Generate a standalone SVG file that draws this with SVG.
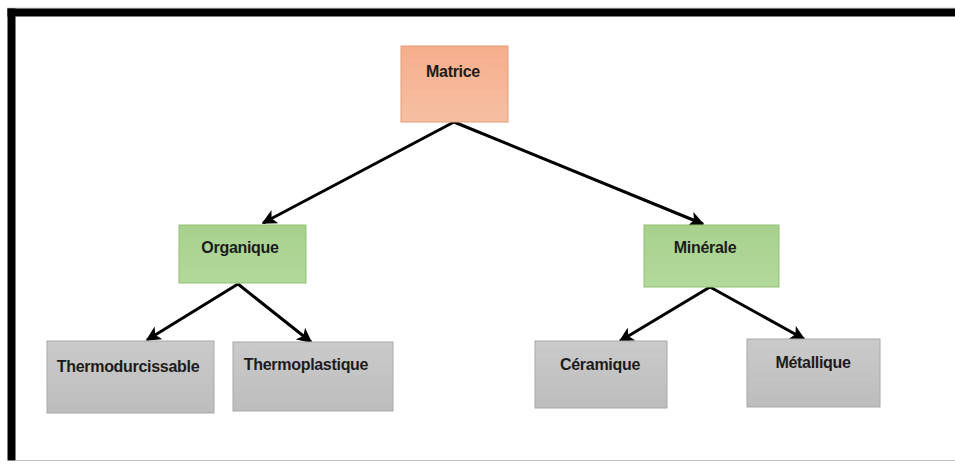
<svg xmlns="http://www.w3.org/2000/svg" width="955" height="470" viewBox="0 0 955 470">
<defs>
<linearGradient id="gOrange" x1="0" y1="0" x2="0" y2="1"><stop offset="0" stop-color="#F5AE8C"/><stop offset="1" stop-color="#F7BFA2"/></linearGradient>
<linearGradient id="gGreen" x1="0" y1="0" x2="0" y2="1"><stop offset="0" stop-color="#A8D18D"/><stop offset="1" stop-color="#B3D89B"/></linearGradient>
<linearGradient id="gGrey" x1="0" y1="0" x2="0" y2="1"><stop offset="0" stop-color="#CACACA"/><stop offset="1" stop-color="#BDBDBD"/></linearGradient>
<marker id="arr" viewBox="0 0 10 10" refX="9" refY="5" markerWidth="5" markerHeight="5" orient="auto" markerUnits="strokeWidth">
<path d="M0,0 L10,5 L0,10 L2.5,5 z" fill="#000"/>
</marker>
<style>
.lbl{font-family:"Liberation Sans",Arial,sans-serif;font-weight:bold;font-size:16px;letter-spacing:-0.3px;fill:#1c1c1c;text-anchor:middle}
.or{fill:url(#gOrange);stroke:#E49B78;stroke-width:1}
.gr{fill:url(#gGreen);stroke:#93BF77;stroke-width:1}
.gy{fill:url(#gGrey);stroke:#A8A8A8;stroke-width:1}
.cn{stroke:#000;stroke-width:3;fill:none;marker-end:url(#arr)}
</style>
</defs>
<rect x="0" y="0" width="955" height="470" fill="#fff"/>
<g id="frame">
<line x1="7" y1="8" x2="955" y2="8" stroke="#d0d0d0" stroke-width="1"/>
<rect x="7.5" y="8.5" width="947.5" height="8" fill="#000"/>
<rect x="7.5" y="8.5" width="8" height="452" fill="#000"/>
<line x1="15" y1="460.5" x2="955" y2="460.5" stroke="#c0c0c0" stroke-width="1.2"/>
</g>
<g id="connectors">
<line class="cn" x1="454" y1="122" x2="263" y2="223"/>
<line class="cn" x1="454" y1="122" x2="703" y2="224"/>
<line class="cn" x1="238" y1="284" x2="147" y2="340"/>
<line class="cn" x1="238" y1="284" x2="311" y2="342"/>
<line class="cn" x1="710" y1="287" x2="620" y2="341"/>
<line class="cn" x1="710" y1="287" x2="804" y2="339"/>
</g>
<g id="matrice"><rect class="or" x="401" y="46" width="107" height="76"/><text class="lbl" x="453" y="77">Matrice</text></g>
<g id="organique"><rect class="gr" x="179" y="225" width="127" height="58"/><text class="lbl" x="240" y="253">Organique</text></g>
<g id="minerale"><rect class="gr" x="644" y="225" width="135" height="62"/><text class="lbl" x="705" y="253">Minérale</text></g>
<g id="thermodurcissable"><rect class="gy" x="47" y="341" width="167" height="72"/><text class="lbl" x="128" y="372">Thermodurcissable</text></g>
<g id="thermoplastique"><rect class="gy" x="233" y="342" width="160" height="69"/><text class="lbl" x="306" y="370">Thermoplastique</text></g>
<g id="ceramique"><rect class="gy" x="535" y="341" width="132" height="67"/><text class="lbl" x="600" y="370">Céramique</text></g>
<g id="metallique"><rect class="gy" x="747" y="339" width="133" height="68"/><text class="lbl" x="813" y="368">Métallique</text></g>
</svg>
